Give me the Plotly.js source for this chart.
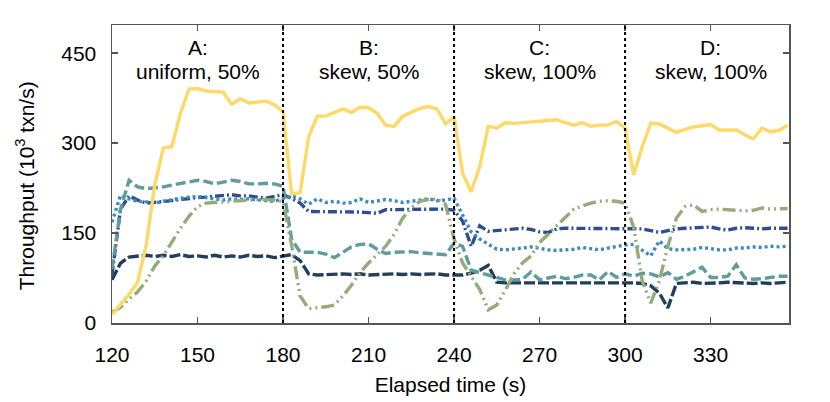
<!DOCTYPE html>
<html>
<head>
<meta charset="utf-8">
<script src="https://cdn.plot.ly/plotly-3.0.1.min.js"></script>
<style>html,body{margin:0;padding:0;background:#fff;}#chart{width:830px;height:402px;}</style>
</head>
<body>
<div id="chart"></div>
<script>
const time = [120,123,126,129,132,135,138,141,144,147,150,153,156,159,162,165,168,171,174,177,
  180,183,186,189,192,195,198,201,204,207,210,213,216,219,222,225,228,231,234,237,
  240,243,246,249,252,255,258,261,264,267,270,273,276,279,282,285,288,291,294,297,
  300,303,306,309,312,315,318,321,324,327,330,333,336,339,342,345,348,351,354,357];

const yellow = [14,30,48,68,130,230,292,294,350,390,391,387,386,385,365,374,367,368,370,364,
  352,216,217,311,345,345,351,357,351,360,359,350,330,328,345,352,358,361,357,332,
  344,250,219,261,328,325,334,333,334,336,336,337,339,334,330,334,328,330,330,336,
  325,247,294,333,332,325,318,323,327,329,331,322,322,322,314,307,325,319,321,330];

const green = [18,26,40,52,70,95,112,135,158,178,194,200,201,203,203,205,206,206,206,204,
  203,130,45,24,25,27,30,45,63,84,100,114,128,148,175,192,203,206,207,198,
  140,100,78,56,22,30,55,82,100,112,134,148,163,176,190,195,200,203,204,203,
  200,160,70,33,70,128,175,194,197,186,189,190,189,189,187,188,192,190,190,191];

const teal = [90,190,238,227,224,225,227,230,233,236,238,236,232,235,238,236,232,232,233,232,
  228,140,118,118,118,115,109,118,127,131,132,123,116,118,119,119,117,116,114,114,
  133,128,88,84,80,76,72,72,73,85,72,75,78,74,76,80,80,72,86,76,
  82,78,83,82,77,84,73,78,86,93,76,76,78,97,75,73,74,76,78,78];

const blue = [168,213,207,203,202,200,203,206,208,210,211,209,207,205,207,206,207,205,204,203,
  207,212,207,198,207,201,203,200,201,207,201,204,206,204,201,203,205,207,204,205,
  208,180,152,140,132,123,122,123,125,127,124,122,121,122,123,126,124,122,125,128,
  130,131,122,112,137,124,122,122,123,126,124,122,122,125,125,127,126,128,127,128];

const navy = [80,190,212,205,200,201,203,204,206,208,209,210,211,212,214,212,212,210,208,211,
  214,208,200,186,186,186,186,185,186,185,184,183,189,189,190,190,190,190,190,190,
  188,170,128,162,153,154,155,157,158,156,152,151,157,158,158,157,158,158,158,158,
  158,158,157,154,151,154,157,158,159,160,160,157,155,158,159,158,157,158,158,158];

const dark = [72,100,110,112,113,111,113,111,114,111,112,110,113,110,112,110,113,111,112,109,
  112,114,104,82,80,81,81,82,81,82,80,81,81,82,81,82,81,82,82,80,
  80,80,83,88,96,68,67,67,67,68,67,67,68,67,68,68,67,68,67,68,
  67,67,66,62,50,25,66,67,68,66,66,67,68,67,67,66,67,66,67,68];

const phaseBounds = [180, 240, 300];
const phaseCenters = [150, 210, 270, 330];
const phaseNames = ["A:", "B:", "C:", "D:"];
const phaseDesc = ["uniform, 50%", "skew, 50%", "skew, 100%", "skew, 100%"];

const FONT = "Liberation Sans, Arial, Helvetica, sans-serif";

function tr(y, color, dash, width) {
  return {x: time, y: y, type: "scatter", mode: "lines",
    line: {color: color, dash: dash, width: width}, hoverinfo: "skip", showlegend: false};
}

const traces = [
  tr(dark, "#213f5b", "11px,3px", 3.4),
  tr(navy, "#2f4e8c", "9px,3px,2px,3px", 3.4),
  tr(blue, "#3b8bc6", "3px,3px", 3.4),
  tr(teal, "#5f9c9c", "10px,4px", 3.4),
  tr(green, "#94ab7c", "13px,4px,2px,4px,2px,4px", 3.4),
  tr(yellow, "#fed967", "solid", 3.4)
];

const shapes = phaseBounds.map(b => ({
  type: "line", xref: "x", yref: "paper", x0: b, x1: b, y0: 0, y1: 1,
  line: {color: "#000", width: 2, dash: "3px,3px"}, layer: "above"
}));

const annotations = [];
phaseCenters.forEach((c, i) => {
  annotations.push({x: c, y: 459, xref: "x", yref: "y", text: phaseNames[i], showarrow: false,
    font: {family: FONT, size: 21, color: "#000"}, xanchor: "center", yanchor: "middle"});
  annotations.push({x: c, y: 419, xref: "x", yref: "y", text: phaseDesc[i], showarrow: false,
    font: {family: FONT, size: 21, color: "#000"}, xanchor: "center", yanchor: "middle"});
});
annotations.push({x: -0.128, y: 0.46, xref: "paper", yref: "paper", textangle: -90,
  text: "Throughput (10<sup>3</sup> txn/s)", showarrow: false,
  font: {family: FONT, size: 21, color: "#000"}, xanchor: "center", yanchor: "middle"});

const layout = {
  width: 830, height: 402,
  margin: {l: 112, r: 41, t: 25, b: 79, pad: 0},
  paper_bgcolor: "#fff", plot_bgcolor: "#fff",
  font: {family: FONT, size: 21, color: "#000"},
  xaxis: {
    range: [120, 357.5], tickvals: [120,150,180,210,240,270,300,330],
    ticks: "inside", ticklen: 6, tickwidth: 1.5, tickcolor: "#555",
    showline: true, linecolor: "#555", linewidth: 1.5, mirror: "ticks",
    showgrid: false, zeroline: false, ticklabelstandoff: 12,
    tickfont: {family: FONT, size: 21, color: "#000"},
    title: {text: "Elapsed time (s)", font: {family: FONT, size: 21, color: "#000"}, standoff: 12}
  },
  yaxis: {
    range: [0, 497], tickvals: [0,150,300,450],
    ticks: "inside", ticklen: 6, tickwidth: 1.5, tickcolor: "#555",
    showline: true, linecolor: "#555", linewidth: 1.5, mirror: "ticks",
    showgrid: false, zeroline: false, ticklabelstandoff: 10,
    tickfont: {family: FONT, size: 21, color: "#000"}
  },
  shapes: shapes,
  annotations: annotations,
  showlegend: false
};

Plotly.newPlot("chart", traces, layout, {displayModeBar: false, staticPlot: true});
</script>
</body>
</html>
